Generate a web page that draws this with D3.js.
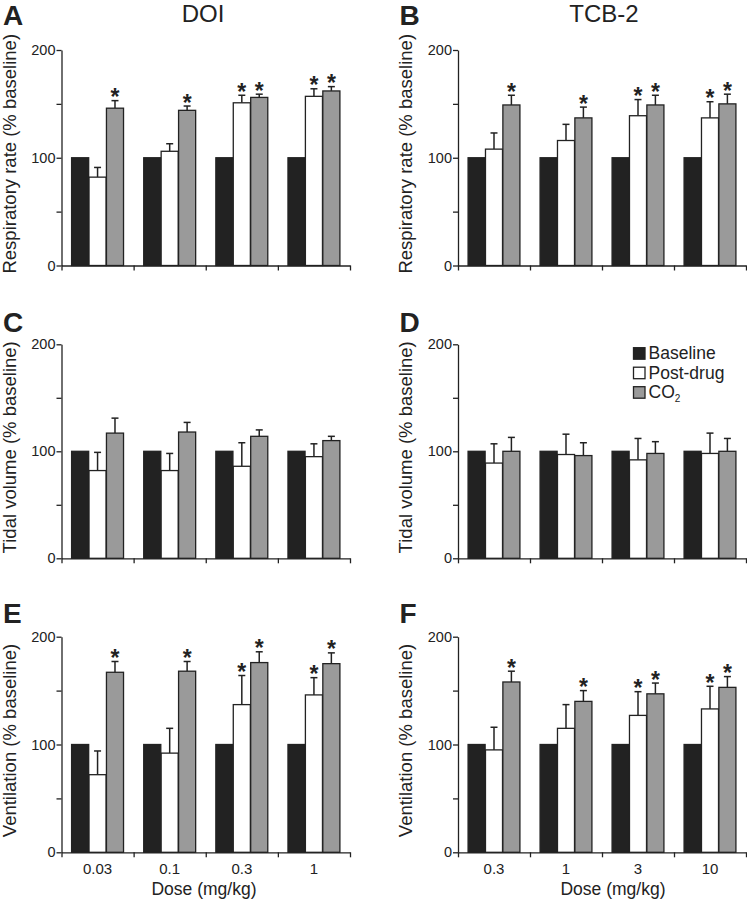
<!DOCTYPE html>
<html>
<head>
<meta charset="utf-8">
<script src="https://cdn.jsdelivr.net/npm/d3@7"></script>
<style>
  body { margin: 0; background: #fff; }
  svg { display: block; }
  text { font-family: "Liberation Sans", Arial, sans-serif; fill: #222; }
</style>
</head>
<body>
<svg id="chart" width="747" height="900"></svg>
<script>
// dose categories
const dosesDOI = ["0.03", "0.1", "0.3", "1"];
const dosesTCB = ["0.3", "1", "3", "10"];
const seriesNames = ["Baseline", "Post-drug", "CO2"];

// baseline is normalised to 100 everywhere
const baseline = [100, 100, 100, 100];

// A: respiratory rate, DOI
const rrDOIpost = [82, 106, 151, 157];
const rrDOIpostErr = [9, 7, 7, 7];
const rrDOIco2 = [146, 144, 156, 162];
const rrDOIco2Err = [7, 4, 3, 4];
// B: respiratory rate, TCB-2
const rrTCBpost = [108, 116, 139, 137];
const rrTCBpostErr = [15, 15, 15, 15];
const rrTCBco2 = [149, 137, 149, 150];
const rrTCBco2Err = [9, 10, 9, 9];
// C: tidal volume, DOI
const vtDOIpost = [82, 82, 86, 95];
const vtDOIpostErr = [17, 16, 22, 12];
const vtDOIco2 = [117, 118, 114, 110];
const vtDOIco2Err = [14, 9, 6, 4];
// D: tidal volume, TCB-2
const vtTCBpost = [89, 97, 92, 98];
const vtTCBpostErr = [18, 19, 20, 19];
const vtTCBco2 = [100, 96, 98, 100];
const vtTCBco2Err = [13, 12, 11, 12];
// E: ventilation, DOI
const veDOIpost = [72, 92, 137, 146];
const veDOIpostErr = [22, 23, 27, 16];
const veDOIco2 = [167, 168, 176, 175];
const veDOIco2Err = [10, 9, 10, 10];
// F: ventilation, TCB-2
const veTCBpost = [95, 115, 127, 133];
const veTCBpostErr = [21, 22, 22, 21];
const veTCBco2 = [158, 140, 147, 153];
const veTCBco2Err = [10, 10, 10, 10];

// significance marks (*)
const sigPost = [0, 0, 1, 1];
const sigCO2 = [1, 1, 1, 1];
const sigNone = [0, 0, 0, 0];

const yTicks = [0, 50, 100, 150, 200];

const colors = { "Baseline": "#222", "Post-drug": "#fff", "CO2": "#9a9a9a" };
const ink = "#222";

const cols = [{ x0: 61.5, x1: 350 }, { x0: 458, x1: 746 }];
const rows = [{ top: 50, bottom: 265.5, letterY: 25 },
              { top: 344.3, bottom: 558.3, letterY: 331.5 },
              { top: 636.7, bottom: 852.3, letterY: 623.3 }];

const panels = [
  { letter: "A", col: 0, row: 0, label: "Respiratory rate (% baseline)", doses: dosesDOI,
    post: rrDOIpost, postErr: rrDOIpostErr, co2: rrDOIco2, co2Err: rrDOIco2Err, sp: sigPost, sc: sigCO2 },
  { letter: "B", col: 1, row: 0, label: "Respiratory rate (% baseline)", doses: dosesTCB,
    post: rrTCBpost, postErr: rrTCBpostErr, co2: rrTCBco2, co2Err: rrTCBco2Err, sp: sigPost, sc: sigCO2 },
  { letter: "C", col: 0, row: 1, label: "Tidal volume (% baseline)", doses: dosesDOI,
    post: vtDOIpost, postErr: vtDOIpostErr, co2: vtDOIco2, co2Err: vtDOIco2Err, sp: sigNone, sc: sigNone },
  { letter: "D", col: 1, row: 1, label: "Tidal volume (% baseline)", doses: dosesTCB,
    post: vtTCBpost, postErr: vtTCBpostErr, co2: vtTCBco2, co2Err: vtTCBco2Err, sp: sigNone, sc: sigNone },
  { letter: "E", col: 0, row: 2, label: "Ventilation (% baseline)", doses: dosesDOI,
    post: veDOIpost, postErr: veDOIpostErr, co2: veDOIco2, co2Err: veDOIco2Err, sp: sigPost, sc: sigCO2, xlab: true },
  { letter: "F", col: 1, row: 2, label: "Ventilation (% baseline)", doses: dosesTCB,
    post: veTCBpost, postErr: veTCBpostErr, co2: veTCBco2, co2Err: veTCBco2Err, sp: sigPost, sc: sigCO2, xlab: true }
];

const svg = d3.select("#chart");

// column titles
svg.append("text").attr("x", 203).attr("y", 22).attr("text-anchor", "middle")
  .style("font-size", "24px").text("DOI");
svg.append("text").attr("x", 604).attr("y", 22).attr("text-anchor", "middle")
  .style("font-size", "24px").text("TCB-2");

panels.forEach(p => {
  const c = cols[p.col], r = rows[p.row];
  const g = svg.append("g");

  const y = d3.scaleLinear().domain([0, 200]).range([r.bottom, r.top]);
  const x = d3.scaleBand().domain(p.doses).range([c.x0, c.x1])
    .paddingInner(0.28).paddingOuter(0.14);
  const xs = d3.scaleBand().domain(seriesNames).range([0, x.bandwidth()]).paddingInner(0.02);
  const bounds = d3.scaleLinear().domain([0, p.doses.length]).range([c.x0, c.x1]);

  // rows of bars
  const recs = [];
  p.doses.forEach((d, i) => {
    recs.push({ dose: d, s: "Baseline", v: baseline[i], e: 0, sig: 0 });
    recs.push({ dose: d, s: "Post-drug", v: p.post[i], e: p.postErr[i], sig: p.sp[i] });
    recs.push({ dose: d, s: "CO2", v: p.co2[i], e: p.co2Err[i], sig: p.sc[i] });
  });

  // error bars (upper only)
  const eb = g.selectAll(".err").data(recs.filter(d => d.e > 0)).enter().append("g");
  const cx = d => x(d.dose) + xs(d.s) + xs.bandwidth() / 2;
  eb.append("line")
    .attr("x1", cx).attr("x2", cx)
    .attr("y1", d => y(d.v)).attr("y2", d => y(d.v + d.e))
    .attr("stroke", ink).attr("stroke-width", 1.5);
  eb.append("line")
    .attr("x1", d => cx(d) - 3.5).attr("x2", d => cx(d) + 3.5)
    .attr("y1", d => y(d.v + d.e)).attr("y2", d => y(d.v + d.e))
    .attr("stroke", ink).attr("stroke-width", 1.5);

  g.selectAll(".bar").data(recs).enter().append("rect")
    .attr("x", d => x(d.dose) + xs(d.s))
    .attr("y", d => y(d.v))
    .attr("width", xs.bandwidth())
    .attr("height", d => y(0) - y(d.v))
    .attr("fill", d => colors[d.s])
    .attr("stroke", ink).attr("stroke-width", 1.3);

  // significance stars
  g.selectAll(".star").data(recs.filter(d => d.sig)).enter().append("text")
    .attr("x", cx)
    .attr("y", d => y(d.v + d.e) + 4.5)
    .attr("text-anchor", "middle")
    .style("font-size", "23px").style("font-weight", "bold")
    .text("*");

  // y axis
  const ya = g.append("g").attr("transform", `translate(${c.x0},0)`)
    .call(d3.axisLeft(y).tickValues(yTicks).tickSize(5).tickSizeOuter(0)
      .tickFormat(d => d % 100 === 0 ? d : ""));
  ya.select(".domain").attr("stroke", ink).attr("stroke-width", 1.3);
  ya.selectAll(".tick line").attr("stroke", ink).attr("stroke-width", 1.3);
  ya.selectAll(".tick text").attr("x", -6).style("font-size", "14.5px")
    .style("font-family", "Liberation Sans, Arial, sans-serif").attr("fill", ink);

  // x axis: line with ticks at group boundaries
  const xa = g.append("g").attr("transform", `translate(0,${r.bottom})`)
    .call(d3.axisBottom(bounds).tickValues(d3.range(p.doses.length + 1))
      .tickSize(5).tickSizeOuter(0).tickFormat(""));
  xa.select(".domain").attr("stroke", ink).attr("stroke-width", 1.3);
  xa.selectAll(".tick line").attr("stroke", ink).attr("stroke-width", 1.3);

  if (p.xlab) {
    g.append("g").attr("transform", `translate(0,${r.bottom})`)
      .call(d3.axisBottom(x).tickSize(0).tickPadding(11))
      .call(a => a.select(".domain").remove())
      .selectAll("text").style("font-size", "15px")
      .style("font-family", "Liberation Sans, Arial, sans-serif").attr("fill", ink);
    svg.append("text")
      .attr("x", p.col === 0 ? 204 : 613).attr("y", 895)
      .attr("text-anchor", "middle").style("font-size", "17.5px")
      .text("Dose (mg/kg)");
  }

  // y label
  svg.append("text")
    .attr("transform", `translate(${c.x0 - 46},${(r.top + r.bottom) / 2 - 4}) rotate(-90)`)
    .attr("text-anchor", "middle").style("font-size", "18.5px")
    .text(p.label);

  // panel letter
  svg.append("text").attr("x", c.x0 - 58.5).attr("y", r.letterY)
    .style("font-size", "28px").style("font-weight", "bold")
    .text(p.letter);
});

// legend inside panel D
const legend = svg.append("g").attr("transform", "translate(633.5,347.7)");
seriesNames.forEach((s, i) => {
  const row = legend.append("g").attr("transform", `translate(0,${i * 19.5})`);
  row.append("rect").attr("width", 11.5).attr("height", 11.5)
    .attr("fill", colors[s]).attr("stroke", ink).attr("stroke-width", 1.3);
  const t = row.append("text").attr("x", 15).attr("y", 11.5).style("font-size", "17.5px");
  if (s === "CO2") {
    t.append("tspan").text("CO");
    t.append("tspan").attr("dy", 4).style("font-size", "10px").text("2");
  } else {
    t.text(s);
  }
});
</script>
</body>
</html>
